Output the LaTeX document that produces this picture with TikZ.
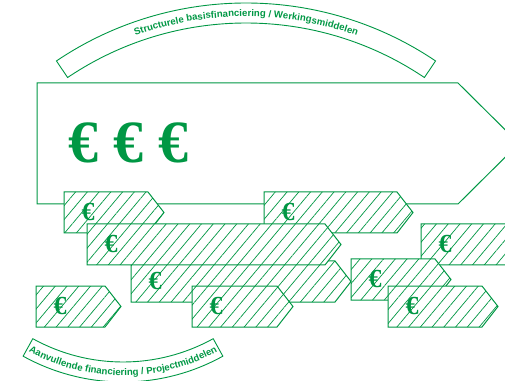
\documentclass[tikz,border=0pt]{standalone}
\usepackage{fontspec}
\setmainfont{Liberation Sans}
\newfontfamily\eurofont{Liberation Serif}
\usetikzlibrary{patterns.meta,decorations.text}
\definecolor{eurogreen}{RGB}{0,151,68}

\newcommand{\eurotag}[4]{%
  \path[tagbox] (#2,#3) -- ++(#4,0) -- ++(16,-20.5) -- ++(-16,-20.5) -- ++(-#4,0) -- cycle;
  \node[smalleuro] (#1) at ({#2+24},{#3-20.5}) {€};
}

\begin{document}
\begin{tikzpicture}[
    x=1pt, y=1pt,
    band/.style={
        draw=eurogreen,
        line width=0.9pt
    },
    mainbox/.style={
        draw=eurogreen,
        line width=1pt
    },
    tagbox/.style={
        draw=eurogreen,
        line width=1pt,
        preaction={fill=white},
        pattern={Lines[angle=50,distance=9pt,line width=0.7pt]},
        pattern color=eurogreen
    },
    bigeuro/.style={
        text=eurogreen,
        font=\eurofont\bfseries\fontsize{60}{60}\selectfont,
        inner sep=0pt
    },
    smalleuro/.style={
        text=eurogreen,
        font=\eurofont\bfseries\fontsize{26}{26}\selectfont,
        inner sep=0pt
    },
    arctext/.style={
        decorate,
        decoration={text along path, text align=center, text color=eurogreen, text={#1}}
    }
]
\useasboundingbox (0,0) rectangle (505,380);
\clip (0,0) rectangle (505,380);

\coordinate (topc) at (246,38);
\draw[band] ([shift={(124:339)}]topc) arc[start angle=124, end angle=56, radius=339]
    -- ([shift={(56:319)}]topc) arc[start angle=56, end angle=124, radius=319] -- cycle;
\path[arctext={|\fontsize{9.6}{11}\selectfont\bfseries|Structurele basisfinanciering / Werkingsmiddelen}]
    ([shift={(124:325.5)}]topc) arc[start angle=124, end angle=56, radius=325.5];

\draw[mainbox] (37,297) -- (458,297) -- (519,236.5) -- (458,176) -- (37,176) -- cycle;
\node[bigeuro, anchor=west] (euros) at (68,237) {€ € €};

\eurotag{tagA}{64}{188}{84}
\eurotag{tagC}{264}{188}{133}
\eurotag{tagD}{131}{119}{204}
\eurotag{tagB}{87}{156}{238}
\eurotag{tagE}{421}{156}{120}
\eurotag{tagF}{351}{121}{84}
\eurotag{tagI}{192}{94}{85}
\eurotag{tagG}{388}{94}{94}
\eurotag{tagH}{36}{94}{69}

\coordinate (botc) at (123,204);
\draw[band] ([shift={(241:186)}]botc) arc[start angle=241, end angle=299, radius=186]
    -- ([shift={(299:206)}]botc) arc[start angle=299, end angle=241, radius=206] -- cycle;
\path[arctext={|\fontsize{9.6}{11}\selectfont\bfseries|Aanvullende financiering / Projectmiddelen}]
    ([shift={(241:199.5)}]botc) arc[start angle=241, end angle=299, radius=199.5];

\end{tikzpicture}
\end{document}
